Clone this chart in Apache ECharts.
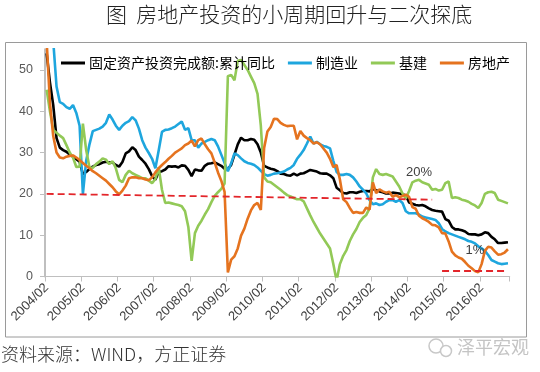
<!DOCTYPE html>
<html><head><meta charset="utf-8">
<script src="https://cdn.jsdelivr.net/npm/echarts@6/dist/echarts.min.js"></script>
<style>html,body{margin:0;padding:0;background:#fff}#c{width:540px;height:372px}</style>
</head><body><div id="c"></div>
<script>
// ---- data ----
const years = [2004,2005,2006,2007,2008,2009,2010,2011,2012,2013,2014,2015,2016];
const months = ['02','03','04','05','06','07','08','09','10','11','12'];
const lastMonth2016 = 10;
const categories = [];
years.forEach(function (y) {
  months.forEach(function (m) {
    if (y < 2016 || +m <= lastMonth2016) categories.push(y + '/' + m);
  });
});
const yTicks = [0, 10, 20, 30, 40, 50];
const seriesNames = ['固定资产投资完成额:累计同比', '制造业', '基建', '房地产'];

// 固定资产投资完成额:累计同比
const fai = [
  54, 47, 41.5, 33.5, 31.2, 30.6, 30.2, 29.5, 29.0, 28.4, 27.8,
  24.8, 25.3, 26.0, 26.6, 27.0, 27.2, 27.6, 27.8, 27.6, 27.6, 27.0,
  26.6, 27.7, 29.8, 30.3, 31.3, 30.6, 29.0, 28.2, 27.3, 26.0, 24.3,
  23.4, 25.3, 25.5, 25.9, 26.7, 26.6, 26.7, 26.4, 26.9, 26.8, 25.8,
  24.3, 25.9, 25.7, 25.6, 26.8, 27.3, 27.4, 27.6, 27.2, 26.8, 26.1,
  26.0, 27.0, 29.5, 32.0, 33.6, 33.0, 33.0, 33.3, 33.1, 32.0, 30.0,
  26.8, 26.4, 26.1, 25.9, 25.5, 24.9, 24.8, 24.5, 24.4, 24.9, 24.5,
  24.9, 25.0, 25.4, 25.8, 25.6, 25.4, 25.0, 24.9, 24.9, 24.5, 23.8,
  21.5, 20.9, 20.2, 20.1, 20.4, 20.4, 20.2, 20.5, 20.7, 20.7, 20.6,
  21.2, 20.9, 20.6, 20.4, 20.1, 20.1, 20.3, 20.2, 20.1, 19.9, 19.6,
  17.9, 17.6, 17.3, 17.2, 17.3, 17.0, 16.5, 16.1, 15.9, 15.8, 15.7,
  13.9, 13.5, 12.0, 11.4, 11.4, 11.2, 10.9, 10.3, 10.2, 10.2, 10.0,
  10.2, 10.7, 10.5, 9.6, 9.0, 8.1, 8.1, 8.2, 8.3
];
// 制造业
const manufacturing = [
  75, 66, 57, 46, 42.2, 41.8, 41.0, 40.6, 41.5, 39.6, 36.5,
  20.0, 28.0, 32.0, 35.2, 35.5, 35.8, 36.3, 37.2, 39.2, 38.0, 36.5,
  35.5, 36.5, 37.2, 37.6, 38.6, 37.8, 35.8, 33.0, 31.2, 29.9, 28.5,
  26.2, 30.5, 35.0, 35.5, 35.6, 35.9, 36.3, 36.9, 37.5, 35.5, 35.9,
  33.0, 33.0, 31.2, 32.2, 32.6, 33.0, 33.3, 33.0, 31.5, 29.5, 27.5,
  25.5, 27.4, 29.8, 29.4, 28.6, 27.9, 27.5, 27.3, 27.0, 26.4, 25.6,
  24.8, 24.4, 24.6, 24.9, 25.0, 25.2, 25.4, 25.9, 26.3, 27.0, 28.5,
  29.5, 30.6, 32.2, 33.9, 32.2, 32.6, 32.0, 31.6, 31.4, 31.0, 28.0,
  25.3, 24.6, 24.6, 24.8, 24.6, 24.0, 23.0, 21.8, 21.0, 20.1, 18.5,
  17.5, 17.7, 17.3, 17.5, 18.1, 18.5, 18.5, 18.1, 18.5, 17.8, 15.8,
  15.3, 15.3, 15.3, 15.0, 14.5, 14.3, 14.1, 13.9, 13.7, 12.9, 11.5,
  10.9, 10.5, 10.2, 9.9, 9.6, 9.3, 9.0, 8.6, 8.4, 8.0, 7.3,
  6.8, 6.2, 5.2, 4.0, 3.6, 3.2, 3.0, 3.1, 3.2
];
// 基建
const infrastructure = [
  45.2, 40.0, 35.5, 34.8, 34.1, 33.5, 31.8, 30.0, 28.8, 26.5, 26.6,
  37.0, 30.6, 26.4, 26.3, 27.2, 27.8, 28.6, 28.3, 27.2, 27.9, 26.2,
  23.4, 22.8, 24.6, 25.6, 25.0, 24.6, 24.2, 23.8, 23.8, 23.2, 22.6,
  23.6, 26.4, 21.0, 17.8, 17.9, 17.7, 17.5, 17.3, 17.0, 15.8, 12.0,
  3.8, 10.5, 12.3, 13.5, 15.0, 16.3, 18.0, 19.5, 20.4, 21.2, 22.5,
  48.5, 48.8, 47.5, 52.2, 52.4, 51.2, 50.0, 48.4, 46.8, 44.2, 36.5,
  24.0, 23.0, 22.8, 22.2, 21.6, 21.0, 20.3, 19.7, 19.4, 19.0, 18.7,
  18.7, 18.2, 16.5, 14.8, 13.2, 11.8, 10.4, 9.2, 8.0, 6.8, 3.0,
  -1.0, 3.0, 5.0, 6.4, 8.6, 10.2, 11.5, 13.2, 14.2, 14.9, 16.5,
  24.0, 26.0, 24.8, 24.6, 24.8, 24.5, 24.2, 23.0, 21.8, 20.1, 18.9,
  20.7, 22.8, 23.2, 23.4, 22.8, 22.5, 22.2, 21.0, 21.2, 20.8, 21.0,
  22.6, 23.0, 19.0, 19.2, 19.0, 18.6, 18.4, 18.1, 17.6, 17.2, 16.6,
  17.8, 20.0, 20.4, 20.5, 20.2, 18.6, 18.3, 18.0, 17.7
];
// 房地产
const realEstate = [
  57, 42, 34, 30, 28.8, 28.6, 29.0, 29.2, 29.3, 28.8, 28.2,
  27.5, 26.8, 26.2, 25.5, 25.0, 24.4, 23.8, 23.2, 22.4, 21.6, 20.6,
  19.9, 20.8, 22.0, 23.8, 24.0, 24.0, 23.8, 23.8, 23.5, 23.3, 24.0,
  25.2, 26.2, 27.0, 27.7, 28.5, 29.2, 30.0, 30.5, 31.0, 31.8, 32.2,
  32.9, 31.5, 33.0, 33.4, 32.0, 30.8, 29.8, 27.6, 25.2, 23.2, 20.5,
  1.0, 4.1, 4.9, 6.8, 9.9, 11.6, 14.0, 16.0, 17.3, 17.8, 16.1,
  31.1, 35.1, 36.2, 38.2, 38.1, 37.2, 36.7, 36.4, 36.5, 36.5, 33.2,
  35.2, 34.1, 33.5, 33.0, 32.2, 32.5, 32.0, 31.0, 30.0, 28.5, 26.5,
  27.0, 23.5, 18.7, 18.0, 16.6, 15.4, 15.6, 15.4, 15.4, 16.7, 16.2,
  22.8, 20.2, 21.1, 20.6, 20.3, 20.5, 19.3, 19.7, 19.2, 19.5, 19.8,
  19.3, 16.8, 16.4, 14.7, 14.1, 13.7, 13.2, 12.5, 12.4, 11.9, 10.5,
  10.4, 8.5, 6.0, 5.1, 4.6, 4.3, 3.5, 2.6, 2.0, 1.3, 1.0,
  3.0, 6.2, 7.2, 7.0, 6.1, 5.3, 5.4, 5.8, 6.6
];
// annotations: [category index, value]
const line20Start = [0, 20.0];
const line20End = [117, 18.6];
const line1Start = [120, 1.4];
const line1End = [140, 1.4];
const label20 = { name: '20%', at: [113, 25.3] };
const label1 = { name: '1%', at: [130, 6.4] };

const colors = ['#000000', '#1EA6DE', '#92C957', '#E5731F'];
const seriesData = [fai, manufacturing, infrastructure, realEstate];

const chart = echarts.init(document.getElementById('c'), null, { renderer: 'canvas' });

const series = seriesNames.map(function (name, k) {
  const s = {
    name: name,
    type: 'line',
    data: seriesData[k],
    symbol: 'none',
    showSymbol: false,
    clip: true,
    lineStyle: { color: colors[k], width: 2.6 },
    itemStyle: { color: colors[k] },
    emphasis: { disabled: true },
    animation: false
  };
  return s;
});
series[3].markLine = {
  silent: true,
  symbol: 'none',
  animation: false,
  label: { show: false },
  lineStyle: { color: '#E3262B', type: [7, 4], width: 1.8 },
  data: [
    [{ coord: line20Start }, { coord: line20End }],
    [{ coord: line1Start }, { coord: line1End }]
  ]
};
series[3].markPoint = {
  silent: true,
  animation: false,
  symbol: 'circle',
  symbolSize: 1,
  itemStyle: { color: 'rgba(0,0,0,0)' },
  label: { show: true, position: 'inside', formatter: '{b}', color: '#404040',
           fontSize: 13, fontFamily: 'Liberation Sans' },
  data: [
    { name: label20.name, coord: label20.at },
    { name: label1.name, coord: label1.at }
  ]
};

chart.setOption({
  backgroundColor: '#ffffff',
  animation: false,
  textStyle: { fontFamily: 'Noto Sans CJK SC' },
  grid: { left: 45, right: 30.4, top: 49.3, bottom: 95.5, containLabel: false },
  legend: {
    data: seriesNames,
    left: 56, top: 51,
    icon: 'rect', itemWidth: 24, itemHeight: 3, itemGap: 13,
    textStyle: { fontSize: 14, color: '#000', fontFamily: 'Noto Sans CJK SC', padding: [0, 0, 0, -1] },
    selectedMode: false
  },
  xAxis: {
    type: 'category',
    data: categories,
    boundaryGap: true,
    axisLine: { lineStyle: { color: '#BFBFBF', width: 1.2 } },
    axisTick: { show: true, interval: 10, length: 5, lineStyle: { color: '#BFBFBF' } },
    axisLabel: { interval: 10, rotate: 45, margin: 9, fontSize: 13, color: '#404040',
                 fontFamily: 'Liberation Sans' },
    splitLine: { show: false }
  },
  yAxis: {
    type: 'value',
    min: 0, max: 55,
    axisLine: { show: true, lineStyle: { color: '#BFBFBF', width: 2 } },
    axisTick: { show: true, length: 5, customValues: yTicks, lineStyle: { color: '#BFBFBF' } },
    axisLabel: { customValues: yTicks, margin: 12, fontSize: 12.5, color: '#595959',
                 fontFamily: 'Liberation Sans' },
    splitLine: { show: false }
  },
  graphic: [
    { type: 'rect', silent: true, z: -1,
      shape: { x: 5.5, y: 42.5, width: 521, height: 294.5 },
      style: { fill: 'none', stroke: '#9A9A9A', lineWidth: 1 } },
    { type: 'text', silent: true, left: 106, top: 4,
      style: { text: '图  房地产投资的小周期回升与二次探底', font: '300 21px "Noto Sans CJK SC"', fill: '#222' } },
    { type: 'text', silent: true, left: 1, top: 345,
      style: { text: '资料来源：WIND，方正证券', font: '300 18px "Noto Sans CJK SC"', fill: '#333' } },
    { type: 'circle', silent: true, shape: { cx: 436, cy: 346, r: 7 },
      style: { fill: 'none', stroke: '#C8C8C8', lineWidth: 1.5 } },
    { type: 'circle', silent: true, shape: { cx: 446, cy: 351, r: 5.5 },
      style: { fill: '#fff', stroke: '#C8C8C8', lineWidth: 1.5 } },
    { type: 'text', silent: true, left: 457, top: 338,
      style: { text: '泽平宏观', font: '18px "Noto Sans CJK SC"', fill: '#C4C4C4' } }
  ],
  series: series
});
</script>
</body></html>
